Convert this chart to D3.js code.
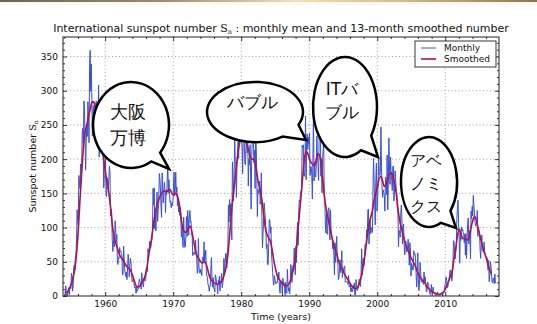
<!DOCTYPE html>
<html><head><meta charset="utf-8">
<script src="https://cdn.jsdelivr.net/npm/d3@7/dist/d3.min.js"></script>
<style>
html,body{margin:0;padding:0;background:#fff;}
svg{display:block;}
text{font-family:"DejaVu Sans",sans-serif;fill:#111;}
</style></head>
<body>
<svg id="chart" width="537" height="324"></svg>
<script>
// ---------------- DATA ----------------
const firstYear = 1954;
// monthly mean sunspot number, one row per year (Jan..Dec)
const monthlyValues = [
 [1,1,15,3,1,0,7,12,2,10,13,11],
 [33,29,7,16,41,45,38,58,60,83,126,109],
 [104,176,168,157,193,165,183,240,245,220,285,272],
 [234,184,223,248,233,284,265,224,334,359,299,339],
 [287,234,270,278,248,243,271,283,285,257,216,266],
 [308,203,263,231,244,239,212,283,206,158,176,177],
 [207,150,145,173,169,156,172,190,180,117,127,121],
 [82,65,75,87,72,110,99,79,90,53,46,56],
 [55,71,65,66,62,59,31,31,73,56,38,33],
 [28,35,24,41,61,51,28,47,55,50,33,21],
 [22,25,23,12,13,13,4,13,7,9,10,21],
 [25,20,17,10,34,23,17,13,24,28,22,24],
 [40,35,36,69,64,68,80,72,71,81,81,100],
 [157,133,158,98,122,95,130,152,109,125,134,179],
 [172,158,131,115,180,156,136,155,166,153,122,155],
 [148,171,192,151,170,150,137,139,129,136,132,139],
 [158,181,146,155,181,151,159,132,141,123,135,118],
 [129,112,86,102,81,71,115,87,71,73,89,116],
 [87,125,113,89,114,125,108,109,91,87,59,64],
 [61,61,65,82,60,56,33,36,84,43,34,33],
 [39,37,30,57,56,51,79,48,57,67,35,29],
 [27,16,16,7,13,16,40,56,20,13,27,11],
 [11,6,31,27,18,17,3,23,19,29,7,22],
 [23,33,12,18,26,55,30,43,62,62,41,61],
 [73,133,108,141,117,135,100,82,196,177,139,174],
 [236,195,195,144,190,212,226,201,267,264,260,250],
 [226,219,179,232,255,223,193,192,219,233,209,247],
 [161,200,192,221,181,127,204,225,237,230,195,213],
 [157,232,218,173,116,156,150,152,168,134,139,180],
 [115,70,91,111,136,125,113,98,69,76,46,46],
 [75,112,110,92,101,61,49,34,21,16,30,25],
 [19,18,20,19,32,28,35,13,4,21,19,20],
 [3,26,17,20,15,1,20,8,4,39,17,7],
 [12,3,17,46,38,20,38,45,39,70,46,31],
 [73,49,94,108,74,125,140,137,148,154,154,220],
 [216,221,176,175,186,263,170,226,237,214,232,222],
 [238,176,189,189,178,142,201,269,168,196,177,174],
 [191,234,198,195,169,237,242,246,175,201,151,201],
 [212,227,150,141,104,92,121,91,90,125,129,116],
 [82,126,97,86,85,69,80,59,31,78,49,68],
 [87,53,48,24,27,42,53,34,39,66,27,39],
 [35,43,44,20,21,22,21,20,17,30,13,14],
 [16,6,12,6,7,16,11,19,2,1,24,18],
 [8,10,12,21,25,17,14,33,69,31,52,55],
 [44,55,75,73,77,97,91,126,127,76,101,112],
 [91,97,100,93,155,201,166,137,104,170,194,124],
 [131,164,201,182,176,181,247,189,159,144,155,151],
 [147,124,174,165,148,206,126,163,231,193,163,203],
 [179,169,154,189,190,139,156,183,172,153,149,128],
 [124,72,96,94,86,121,133,113,76,102,105,73],
 [60,74,80,64,67,70,83,66,45,78,70,29],
 [48,45,38,38,66,61,62,56,34,13,28,63],
 [25,8,17,49,36,23,20,21,23,17,35,22],
 [28,18,8,6,20,20,17,10,4,2,3,17],
 [5,3,13,4,4,4,1,0,2,4,6,1],
 [2,2,1,2,4,4,5,0,7,7,7,16],
 [20,28,23,12,13,20,24,30,38,35,33,22],
 [28,43,81,79,60,54,64,73,113,128,140,106],
 [86,48,95,81,101,95,98,93,90,78,91,60],
 [91,55,84,105,114,76,83,96,54,124,113,131],
 [117,147,132,121,108,102,104,107,125,87,100,96],
 [93,67,55,75,89,67,66,64,79,64,62,58],
 [57,56,54,38,52,21,32,50,45,33,21,19],
 [26,26,18,32,19]
];
// 13-month smoothed number, read every 3 months (Jan, Apr, Jul, Oct)
const smoothedValues = [
 [6,5,7,12],[18,27,40,62],[95,140,180,215],[240,250,262,272],
 [283,284,274,262],[255,240,225,200],[180,165,150,130],[105,88,78,70],
 [62,57,54,50],[45,42,40,36],[30,22,15,13],[14,18,22,27],
 [36,52,68,82],[100,118,130,138],[145,150,153,153],[152,155,156,150],
 [148,150,148,140],[125,105,95,93],[95,100,102,92],[78,66,58,54],
 [50,48,50,48],[40,30,24,22],[19,18,17,18],[20,25,33,43],
 [60,88,120,145],[165,190,210,225],[230,232,228,222],[215,205,200,200],
 [195,180,165,155],[140,120,100,90],[85,80,68,52],[40,30,25,22],
 [19,16,15,15],[18,24,33,45],[62,90,118,145],[175,200,212,208],
 [200,195,192,190],[200,208,205,188],[165,140,125,112],[100,88,78,70],
 [62,52,45,40],[35,30,26,22],[18,14,12,11],[12,16,24,35],
 [50,68,88,105],[115,125,140,150],[160,172,175,168],[160,163,170,178],
 [180,175,165,150],[128,110,100,90],[80,72,66,60],[55,50,45,38],
 [32,28,24,22],[18,14,11,9],[6,5,4,3],[2.5,3,4,6],
 [11,17,23,30],[38,55,70,88],[98,92,84,84],[83,82,88,100],
 [110,116,112,100],[90,80,70,62],[55,45,38,32]
];
const xTicks = [1960,1970,1980,1990,2000,2010];
const yTicks = [0,50,100,150,200,250,300,350];
const seriesNames = ["Monthly","Smoothed"];
const bubbles = [
 {lines:["大阪","万博"]},
 {lines:["バブル"]},
 {lines:["ITバ","ブル"]},
 {lines:["アベ","ノミ","クス"]}
];

// ---------------- LAYOUT ----------------
const L=63, R=499, T=37, B=296;
const monthlyPts=[], smoothPts=[];
monthlyValues.forEach((row,i)=>row.forEach((v,m)=>monthlyPts.push([firstYear+i+(m+0.5)/12, v])));
smoothedValues.forEach((row,i)=>row.forEach((v,q)=>smoothPts.push([firstYear+i+(q*3+0.5)/12, v])));

const x = d3.scaleLinear().domain([1953.8, 2017.9]).range([L,R]);
const y = d3.scaleLinear().domain([0, 378.5]).range([B,T]);
const colors = {Monthly:"#3650d8", Smoothed:"#b0124a"};

const svg = d3.select("#chart");
const defs = svg.append("defs");
const grad = defs.append("linearGradient").attr("id","topstrip");
[["0%","#6a6458"],["30%","#9a8d70"],["55%","#ece3bc"],["75%","#d3bb85"],["100%","#8a7656"]]
  .forEach(([o,c])=>grad.append("stop").attr("offset",o).attr("stop-color",c));
svg.append("rect").attr("x",0).attr("y",0).attr("width",537).attr("height",2).attr("fill","url(#topstrip)");
svg.append("rect").attr("x",0).attr("y",2).attr("width",537).attr("height",3).attr("fill","#faf7ea").attr("opacity",0.7);

defs.append("clipPath").attr("id","clip").append("rect")
  .attr("x",L).attr("y",T).attr("width",R-L).attr("height",B-T);

// grid
const grid = svg.append("g").attr("stroke","#8a8a8a").attr("stroke-width",0.8).attr("stroke-dasharray","1,2.5");
grid.selectAll(".gx").data(xTicks).join("line")
  .attr("x1",d=>x(d)).attr("x2",d=>x(d)).attr("y1",T).attr("y2",B);
grid.selectAll(".gy").data(yTicks.filter(d=>d>0)).join("line")
  .attr("y1",d=>y(d)).attr("y2",d=>y(d)).attr("x1",L).attr("x2",R);

// data lines
const line = d3.line().x(d=>x(d[0])).y(d=>y(d[1]));
const plot = svg.append("g").attr("clip-path","url(#clip)");
plot.append("path").datum(monthlyPts).attr("d",line)
  .attr("fill","none").attr("stroke",colors.Monthly).attr("stroke-width",1).attr("stroke-linejoin","round");
plot.append("path").datum(smoothPts).attr("d",d3.line().curve(d3.curveMonotoneX).x(d=>x(d[0])).y(d=>y(d[1])))
  .attr("fill","none").attr("stroke",colors.Smoothed).attr("stroke-width",1.6).attr("stroke-linejoin","round");

// axes (inward ticks)
const minorX = d3.range(1954, 2018, 2).filter(v=>!xTicks.includes(v));
const minorY = d3.range(10, 378, 10).filter(v=>!yTicks.includes(v));
function styleAxis(g){ g.select(".domain").remove(); g.selectAll("line").attr("stroke","#000").attr("stroke-width",0.8); g.selectAll("text").attr("font-family","DejaVu Sans").attr("font-size",9).attr("fill","#111"); }
svg.append("g").attr("transform",`translate(0,${B})`)
  .call(d3.axisBottom(x).tickValues(xTicks).tickFormat(d3.format("d")).tickSizeInner(-4).tickSizeOuter(0).tickPadding(5)).call(styleAxis);
svg.append("g").attr("transform",`translate(0,${B})`)
  .call(d3.axisBottom(x).tickValues(minorX).tickFormat("").tickSizeInner(-2).tickSizeOuter(0)).call(styleAxis);
svg.append("g").attr("transform",`translate(0,${T})`)
  .call(d3.axisTop(x).tickValues(xTicks).tickFormat("").tickSizeInner(-4).tickSizeOuter(0)).call(styleAxis);
svg.append("g").attr("transform",`translate(0,${T})`)
  .call(d3.axisTop(x).tickValues(minorX).tickFormat("").tickSizeInner(-2).tickSizeOuter(0)).call(styleAxis);
svg.append("g").attr("transform",`translate(${L},0)`)
  .call(d3.axisLeft(y).tickValues(yTicks).tickFormat(d3.format("d")).tickSizeInner(-4).tickSizeOuter(0).tickPadding(5)).call(styleAxis);
svg.append("g").attr("transform",`translate(${L},0)`)
  .call(d3.axisLeft(y).tickValues(minorY).tickFormat("").tickSizeInner(-2).tickSizeOuter(0)).call(styleAxis);
svg.append("g").attr("transform",`translate(${R},0)`)
  .call(d3.axisRight(y).tickValues(yTicks).tickFormat("").tickSizeInner(-4).tickSizeOuter(0)).call(styleAxis);
svg.append("g").attr("transform",`translate(${R},0)`)
  .call(d3.axisRight(y).tickValues(minorY).tickFormat("").tickSizeInner(-2).tickSizeOuter(0)).call(styleAxis);

svg.append("rect").attr("x",L).attr("y",T).attr("width",R-L).attr("height",B-T)
  .attr("fill","none").attr("stroke","#222").attr("stroke-width",1);

// title
const title = svg.append("text").attr("x",(L+R)/2).attr("y",32).attr("text-anchor","middle").attr("font-size",11);
title.append("tspan").text("International sunspot number ");
title.append("tspan").attr("font-family","DejaVu Serif").text("S");
title.append("tspan").attr("font-family","DejaVu Serif").attr("font-size",6.5).attr("dy",2).text("n");
title.append("tspan").attr("dy",-2).text(" : monthly mean and 13-month smoothed number");

// axis labels
const yl = svg.append("text").attr("transform",`translate(36,${(T+B)/2}) rotate(-90)`).attr("text-anchor","middle").attr("font-size",9.5);
yl.append("tspan").text("Sunspot number ");
yl.append("tspan").attr("font-family","DejaVu Serif").text("S");
yl.append("tspan").attr("font-family","DejaVu Serif").attr("font-size",6).attr("dy",2).text("n");
svg.append("text").attr("x",(L+R)/2).attr("y",320).attr("text-anchor","middle").attr("font-size",9.5).text("Time (years)");

// legend
const lg = svg.append("g");
lg.append("rect").attr("x",415).attr("y",41).attr("width",81).attr("height",26).attr("fill","#fff").attr("stroke","#222").attr("stroke-width",0.9);
seriesNames.forEach((n,i)=>{
  const yy = 48 + i*11;
  lg.append("line").attr("x1",421).attr("x2",436).attr("y1",yy).attr("y2",yy).attr("stroke",colors[n]).attr("stroke-width",n==="Monthly"?1:1.6);
  lg.append("text").attr("x",444).attr("y",yy+3.3).attr("font-size",9).text(n);
});

// speech bubbles
const bubbleGeom = [
 {cx:131, cy:125, rx:38, ry:43, a1:40, a2:58, tx:169, ty:169, fs:18, ty0:118, lh:26},
 {cx:255, cy:112, rx:48, ry:30, a1:25, a2:55, tx:306, ty:140, fs:17, ty0:108, lh:0},
 {cx:345, cy:107, rx:32, ry:50, a1:35, a2:60, tx:378, ty:157, fs:17, ty0:95, lh:23},
 {cx:429, cy:182, rx:28, ry:45, a1:40, a2:65, tx:456, ty:228, fs:16, ty0:166, lh:23}
];
const bg = svg.append("g");
bubbles.forEach((b,i)=>{
  const g = bubbleGeom[i];
  const P = a=>[g.cx+g.rx*Math.cos(a*Math.PI/180), g.cy+g.ry*Math.sin(a*Math.PI/180)];
  const p1=P(g.a1), p2=P(g.a2);
  const d = `M${p1[0]},${p1[1]} L${g.tx},${g.ty} L${p2[0]},${p2[1]} A${g.rx},${g.ry} 0 1 1 ${p1[0]},${p1[1]} Z`;
  bg.append("path").attr("d",d).attr("fill","#fff").attr("stroke","#000").attr("stroke-width",2.5).attr("stroke-linejoin","miter");
  b.lines.forEach((t,j)=>{
    bg.append("text").attr("x",g.cx-3).attr("y",g.ty0+j*g.lh).attr("text-anchor","middle")
      .attr("font-family","Noto Sans CJK JP").attr("font-size",g.fs).attr("fill","#000").text(t);
  });
});
</script>
</body></html>
